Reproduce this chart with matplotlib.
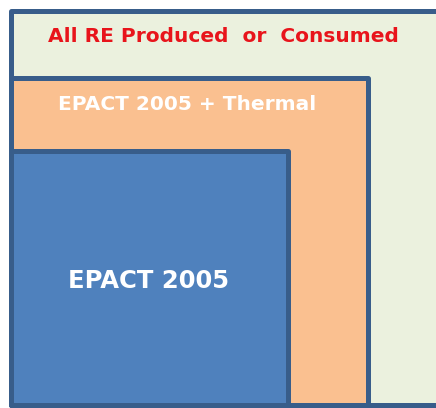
import matplotlib
matplotlib.use('Agg')
import matplotlib.pyplot as plt
from matplotlib.patches import Rectangle

# ==========================================
# data: nested scopes (outer -> inner)
# ==========================================
labels = ['All RE Produced  or  Consumed', 'EPACT 2005 + Thermal', 'EPACT 2005']
right_edge = [450, 368, 288]   # px
top_edge = [10.5, 78, 151]     # px
fills = ['#EBF1DE', '#FAC090', '#4F81BD']
text_colors = ['#E8141B', 'white', 'white']
text_xy = [(223, 37), (187, 104), (149, 281)]
text_size = [14.5, 14.5, 17.5]

W, H = 436, 408
LEFT, BOTTOM = 10.5, 405
EDGE = '#385D8A'

fig = plt.figure(figsize=(W / 100, H / 100), dpi=100)
ax = fig.add_axes([0, 0, 1, 1])
ax.set_xlim(0, W)
ax.set_ylim(H, 0)
ax.axis('off')

for i in range(len(labels)):
    r = Rectangle((LEFT, top_edge[i]), right_edge[i] - LEFT, BOTTOM - top_edge[i],
                  facecolor=fills[i], edgecolor=EDGE, linewidth=3.6, joinstyle='round')
    ax.add_patch(r)
    ax.text(text_xy[i][0], text_xy[i][1], labels[i], color=text_colors[i],
            fontsize=text_size[i], fontweight='bold', family='DejaVu Sans',
            ha='center', va='center')

fig.savefig('out.png', dpi=100)
